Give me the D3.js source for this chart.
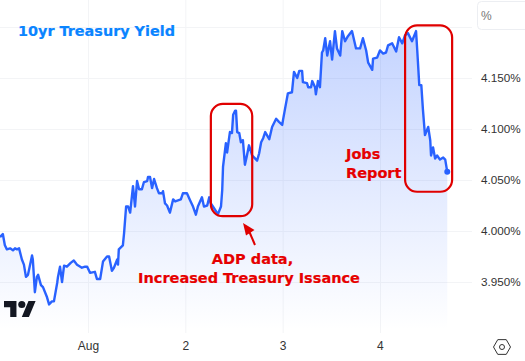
<!DOCTYPE html>
<html>
<head>
<meta charset="utf-8">
<script src="https://cdn.jsdelivr.net/npm/d3@7"></script>
<style>
html, body { margin: 0; padding: 0; background: #fff; }
svg { display: block; }
text { font-family: "Liberation Sans", sans-serif; }
.note { font-family: "DejaVu Sans", sans-serif; font-weight: bold; fill: #e60000; font-size: 14.5px; stroke: #e60000; stroke-width: 0.2px; }
</style>
</head>
<body>
<svg width="525" height="361"></svg>
<script>
// hours since Aug 1 00:00 UTC
const hours = [-21.7,-21.0,-20.5,-20.0,-19.2,-18.5,-18.0,-17.5,-17.0,-16.3,-15.8,-15.3,-14.8,-13.8,-13.6,-13.1,-12.6,-12.3,-11.6,-11.1,
  -10.1,-9.6,-8.9,-8.4,-7.6,-7.4,-6.9,-6.4,-5.9,-5.2,-4.2,-3.5,-2.7,-1.5,-0.7,-0.2,0.5,1.7,2.2,3.0,
  3.7,4.7,5.2,5.9,6.4,7.2,7.4,7.6,8.6,8.9,9.4,9.9,10.4,11.1,11.6,12.1,12.6,13.3,13.8,14.6,
  14.8,15.3,15.8,16.3,17.0,17.5,18.3,18.5,19.0,19.5,20.2,21.0,21.5,22.2,22.9,23.4,24.4,25.2,25.9,26.6,
  27.1,28.1,28.6,29.4,29.9,30.3,30.8,31.8,32.1,32.8,33.1,33.3,34.0,34.3,35.0,35.5,35.8,36.3,36.5,36.8,
  37.3,37.7,38.2,38.7,39.2,39.7,40.5,41.0,41.7,42.2,42.7,43.2,43.7,44.7,45.4,46.4,47.1,47.9,48.1,48.6,
  49.3,50.3,50.8,51.6,52.1,52.8,53.0,54.0,54.3,55.0,55.3,56.0,56.2,56.7,57.2,57.7,58.0,58.5,59.0,59.7,
  60.2,60.9,61.4,62.2,62.7,63.4,64.1,65.1,66.1,67.1,67.8,68.6,69.1,70.1,70.3,71.3,72.0,72.8,73.5,74.0,
  75.0,76.0,76.7,77.5,78.2,78.9,79.9,80.9,81.2,81.7,82.2,82.6,83.1,83.9,84.4,84.6,85.1,85.6,86.1,86.8,
  87.6,88.1,88.6];
const yields = [3.994,3.997,3.986,3.982,3.983,3.981,3.983,3.982,3.983,3.972,3.967,3.955,3.957,3.976,3.972,3.940,3.955,3.957,3.947,3.945,
  3.935,3.928,3.931,3.931,3.949,3.955,3.965,3.950,3.966,3.965,3.969,3.971,3.967,3.964,3.965,3.965,3.959,3.960,3.953,3.953,
  3.970,3.975,3.975,3.961,3.964,3.972,3.967,3.982,3.986,3.998,4.024,4.024,4.018,4.044,4.024,4.049,4.041,4.041,4.048,4.049,
  4.053,4.053,4.042,4.051,4.042,4.037,4.037,4.039,4.027,4.025,4.018,4.031,4.029,4.030,4.031,4.037,4.037,4.030,4.024,4.016,
  4.024,4.033,4.024,4.025,4.033,4.027,4.024,4.018,4.017,4.024,4.040,4.063,4.086,4.077,4.097,4.096,4.114,4.118,4.118,4.097,
  4.096,4.087,4.089,4.065,4.074,4.084,4.074,4.072,4.069,4.076,4.087,4.091,4.097,4.090,4.102,4.110,4.107,4.104,4.109,4.120,
  4.135,4.136,4.156,4.150,4.157,4.157,4.146,4.145,4.141,4.141,4.147,4.141,4.134,4.147,4.141,4.175,4.177,4.189,4.172,4.186,
  4.168,4.196,4.179,4.172,4.196,4.186,4.191,4.196,4.179,4.179,4.189,4.177,4.165,4.158,4.169,4.170,4.177,4.174,4.175,4.182,
  4.184,4.176,4.190,4.184,4.192,4.194,4.186,4.196,4.177,4.143,4.143,4.119,4.094,4.102,4.089,4.074,4.082,4.071,4.074,4.070,
  4.072,4.070,4.058];

const yTicks = [3.95, 4.0, 4.05, 4.1, 4.15, 4.2];
const yLabelled = [3.95, 4.0, 4.05, 4.1, 4.15];
const dayTicks = [0, 24, 48, 72];
const dayLabels = ['Aug', '2', '3', '4'];

const title = '10yr Treasury Yield';
const adpLines = ['ADP data,', 'Increased Treasury Issance'];
const jobsLines = ['Jobs', 'Report'];
// annotated time/yield windows
const adpBox = [30.3, 40.5, 4.1246, 4.0145];
const jobsBox = [78.2, 89.8, 4.2015, 4.0385];

const t0 = Date.UTC(2023, 7, 1);
const toDate = h => new Date(t0 + h * 3600e3);

const paneW = 472, paneH = 333;
const x = d3.scaleUtc().domain([toDate(-21.7), toDate(94.7)]).range([0, paneW]);
const y = d3.scaleLinear().domain([3.9, 4.2]).range([333, 27]);

const svg = d3.select('svg');
const data = hours.map((h, i) => ({ t: toDate(h), v: yields[i] }));

const defs = svg.append('defs');
const grad = defs.append('linearGradient').attr('id', 'fill')
  .attr('gradientUnits', 'userSpaceOnUse')
  .attr('x1', 0).attr('x2', 0).attr('y1', y(4.2)).attr('y2', 330);
grad.append('stop').attr('offset', 0).attr('stop-color', '#2962ff').attr('stop-opacity', 0.28);
grad.append('stop').attr('offset', 1).attr('stop-color', '#2962ff').attr('stop-opacity', 0.0);

// grid
const gridX = svg.append('g')
  .attr('transform', `translate(0,${paneH})`)
  .call(d3.axisBottom(x).tickValues(dayTicks.map(toDate)).tickSize(-paneH).tickFormat(''));
gridX.select('.domain').remove();
gridX.selectAll('line').attr('stroke', '#f3f4f6');

const gridY = svg.append('g')
  .call(d3.axisLeft(y).tickValues(yTicks).tickSize(-paneW).tickFormat(''));
gridY.select('.domain').remove();
gridY.selectAll('line').attr('stroke', '#f3f4f6');

// area + line
const area = d3.area().x(d => x(d.t)).y0(330).y1(d => y(d.v));
const line = d3.line().x(d => x(d.t)).y(d => y(d.v));
svg.append('path').datum(data).attr('d', area).attr('fill', 'url(#fill)');
svg.append('path').datum(data).attr('d', line)
  .attr('fill', 'none').attr('stroke', '#2962ff').attr('stroke-width', 2.4).attr('stroke-linejoin', 'round');
const last = data[data.length - 1];
svg.append('circle').attr('cx', x(last.t)).attr('cy', y(last.v)).attr('r', 3).attr('fill', '#2962ff');

// axes
const yAxis = svg.append('g')
  .attr('transform', `translate(${paneW},0)`)
  .call(d3.axisRight(y).tickValues(yLabelled).tickSize(0).tickPadding(9).tickFormat(d => d3.format('.3f')(d) + '%'));
yAxis.select('.domain').remove();
yAxis.selectAll('text').attr('font-size', 11.7).attr('font-family', '"Liberation Sans", sans-serif').attr('fill', '#333');

const xAxis = svg.append('g')
  .attr('transform', `translate(0,${paneH})`)
  .call(d3.axisBottom(x).tickValues(dayTicks.map(toDate)).tickSize(0).tickPadding(8)
    .tickFormat((d, i) => dayLabels[i]));
xAxis.select('.domain').remove();
xAxis.selectAll('text').attr('font-size', 12).attr('font-family', '"Liberation Sans", sans-serif').attr('fill', '#333');

// % box
svg.append('rect').attr('x', 477.5).attr('y', 1.5).attr('width', 60).attr('height', 28).attr('rx', 4)
  .attr('fill', '#fff').attr('stroke', '#eceef2');
svg.append('text').attr('x', 481).attr('y', 20).attr('font-size', 12).attr('fill', '#777').text('%');

// title
svg.append('text').attr('x', 18).attr('y', 36)
  .style('font-family', '"DejaVu Sans", sans-serif').style('font-weight', 'bold').style('font-size', '14.4px')
  .attr('fill', '#0a84ff').attr('stroke', '#0a84ff').attr('stroke-width', 0.2).text(title);

// annotation boxes
[adpBox, jobsBox].forEach(b => {
  svg.append('rect')
    .attr('x', x(toDate(b[0]))).attr('y', y(b[2]))
    .attr('width', x(toDate(b[1])) - x(toDate(b[0]))).attr('height', y(b[3]) - y(b[2]))
    .attr('rx', 12).attr('fill', 'none').attr('stroke', '#e00000').attr('stroke-width', 2.2);
});

// arrow
svg.append('path').attr('d', 'M243 223 L254.5 230 L246 235.5 Z').attr('fill', '#e00000');
svg.append('path').attr('d', 'M249 231 L255 245').attr('stroke', '#e00000').attr('stroke-width', 2).attr('fill', 'none');

svg.selectAll('.adp').data(adpLines).join('text').attr('class', 'note adp')
  .attr('x', (d, i) => i === 0 ? 252.5 : 249).attr('y', (d, i) => 264 + i * 19).attr('text-anchor', 'middle').text(d => d);
svg.selectAll('.jobs').data(jobsLines).join('text').attr('class', 'note jobs')
  .attr('x', 346).attr('y', (d, i) => 159 + i * 19).text(d => d);

// TradingView mark
const logo = svg.append('g').attr('transform', 'translate(4,297.4) scale(0.89)').attr('fill', '#131722');
logo.append('path').attr('d', 'M14 22H7V11H0V4h14v18zM28 22h-8l7.5-18h8L28 22z');
logo.append('circle').attr('cx', 20).attr('cy', 8).attr('r', 4);

// settings icon
const hex = d3.range(6).map(i => [502 + 8.5 * Math.cos(i * Math.PI / 3), 347 + 8.5 * Math.sin(i * Math.PI / 3)]);
svg.append('path').attr('d', d3.line().curve(d3.curveLinearClosed)(hex)).attr('fill', 'none').attr('stroke', '#333');
svg.append('circle').attr('cx', 502).attr('cy', 347).attr('r', 2.5).attr('fill', 'none').attr('stroke', '#333');
</script>
</body>
</html>
